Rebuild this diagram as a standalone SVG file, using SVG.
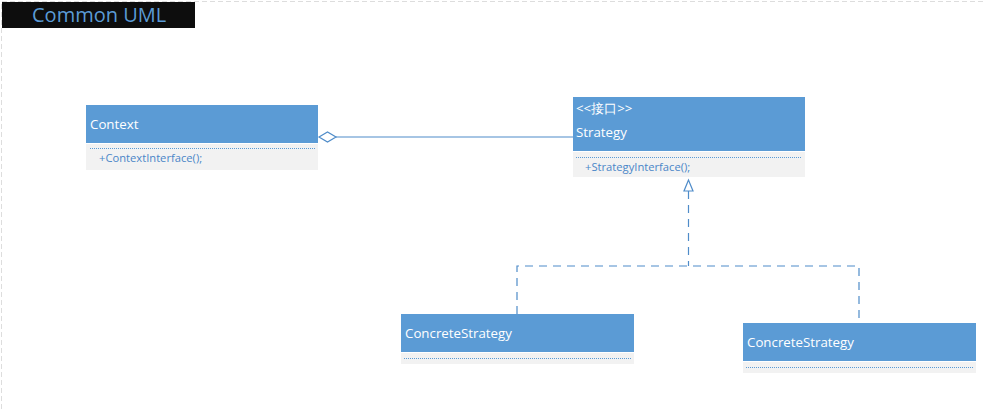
<svg xmlns="http://www.w3.org/2000/svg" width="983" height="409" viewBox="0 0 983 409">
<style>
  .hdr { fill: #5b9bd5; }
  .body { fill: #f2f2f2; }
  .name { font-family: "Open Sans", "Noto Sans", sans-serif; font-size: 13.3px; fill: #ffffff; }
  .op { font-family: "Open Sans", "Noto Sans", sans-serif; font-size: 11.2px; fill: #4a86c8; }
  .sep { stroke: #5b9bd5; stroke-width: 1; stroke-dasharray: 1 1; fill: none; }
  .conn { stroke: #4f8cc9; stroke-width: 1.2; fill: none; }
  .dash { stroke-dasharray: 8 6; }
</style>
<rect x="0" y="0" width="983" height="409" fill="#ffffff"/>
<path d="M1.5 409 V1.5 H983" fill="none" stroke="#dddddd" stroke-width="1" stroke-dasharray="5 3"/>
<g id="title">
  <rect x="2" y="2" width="193" height="26" fill="#0d0d0d"/>
  <text x="32" y="22" font-family="Open Sans, Noto Sans, sans-serif" font-size="20" fill="#5b9bd5">Common UML</text>
</g>
<g id="connectors">
  <line class="conn" x1="336" y1="137" x2="573" y2="137"/>
  <polygon points="319,137 327.5,132 336,137 327.5,142" fill="#ffffff" stroke="#4f8cc9" stroke-width="1.2"/>
  <polyline class="conn dash" points="688.5,191 688.5,266"/>
  <polyline class="conn dash" points="517,314 517,266 859,266 859,323"/>
  <polygon points="688.5,180 684,191 693,191" fill="#ffffff" stroke="#4f8cc9" stroke-width="1.2"/>
</g>
<g id="context">
  <rect class="hdr" x="86" y="105" width="232" height="38"/>
  <rect class="body" x="86" y="144" width="232" height="26"/>
  <line class="sep" x1="90" y1="148.5" x2="315" y2="148.5"/>
  <text class="name" x="90" y="129">Context</text>
  <text class="op" x="99" y="162">+ContextInterface();</text>
</g>
<g id="strategy">
  <rect class="hdr" x="573" y="97" width="232" height="54"/>
  <rect class="body" x="573" y="152" width="232" height="25"/>
  <line class="sep" x1="576" y1="157.5" x2="802" y2="157.5"/>
  <text class="name" x="576" y="113" font-size="11" font-family="Open Sans, Noto Sans CJK SC, sans-serif">&lt;&lt;接口&gt;&gt;</text>
  <text class="name" x="576" y="137">Strategy</text>
  <text class="op" x="585" y="171">+StrategyInterface();</text>
</g>
<g id="concrete1">
  <rect class="hdr" x="401" y="314" width="233" height="38"/>
  <rect class="body" x="401" y="353" width="233" height="11"/>
  <line class="sep" x1="404" y1="358.5" x2="631" y2="358.5"/>
  <text class="name" x="405" y="338">ConcreteStrategy</text>
</g>
<g id="concrete2">
  <rect class="hdr" x="743" y="323" width="233" height="38"/>
  <rect class="body" x="743" y="362" width="233" height="11"/>
  <line class="sep" x1="746" y1="367.5" x2="973" y2="367.5"/>
  <text class="name" x="747" y="347">ConcreteStrategy</text>
</g>
</svg>
